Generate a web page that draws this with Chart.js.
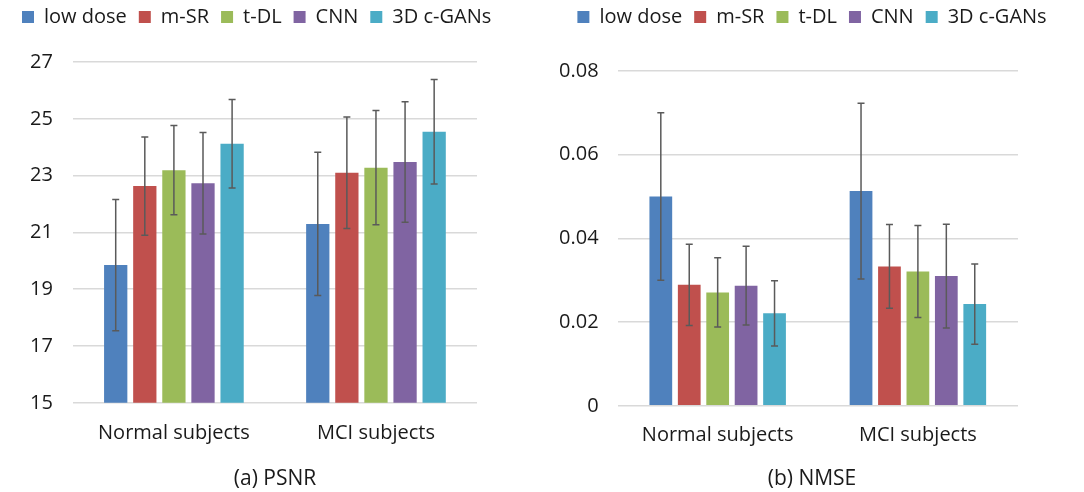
<!DOCTYPE html>
<html>
<head>
<meta charset="utf-8">
<script src="https://cdn.jsdelivr.net/npm/chart.js@4/dist/chart.umd.min.js"></script>
<style>
  body { margin: 0; background: #fff; }
  .wrap { position: absolute; top: 0; height: 492px; }
</style>
</head>
<body>
<div class="wrap" style="left:0;width:540px"><canvas id="psnrChart"></canvas></div>
<div class="wrap" style="left:540px;width:544px"><canvas id="nmseChart"></canvas></div>
<script>
// data
const categories = ['Normal subjects', 'MCI subjects'];
const methods = ['low dose', 'm-SR', 't-DL', 'CNN', '3D c-GANs'];
const colors = ['#4f81bd', '#c0504d', '#9bbb59', '#8064a2', '#4bacc6'];

// one row per method: [normal, MCI]
const psnrMean = [[19.85, 21.30], [22.63, 23.10], [23.19, 23.28], [22.73, 23.48], [24.12, 24.54]];
const psnrErr = [[2.31, 2.52], [1.73, 1.96], [1.57, 2.01], [1.79, 2.12], [1.56, 1.84]];
const psnrTicks = [15, 17, 19, 21, 23, 25, 27];

const nmseMean = [[0.0500, 0.0513], [0.0289, 0.0333], [0.0271, 0.0321], [0.0287, 0.0310], [0.0221, 0.0243]];
const nmseErr = [[0.0200, 0.0210], [0.0097, 0.0100], [0.0083, 0.0110], [0.0094, 0.0124], [0.0078, 0.0096]];
const nmseTicks = [0, 0.02, 0.04, 0.06, 0.08];

const fontFam = '"Open Sans", sans-serif';
const textCol = '#1a1a1a';

// draws the +/- error bars using the bar elements and y scale
const errorBars = {
    id: 'errorBars',
    afterDatasetsDraw(chart) {
        const ctx = chart.ctx;
        const yScale = chart.scales.y;
        ctx.save();
        ctx.strokeStyle = '#5a5a5a';
        ctx.lineWidth = 1.5;
        chart.data.datasets.forEach((ds, di) => {
            const meta = chart.getDatasetMeta(di);
            meta.data.forEach((bar, i) => {
                const v = ds.data[i];
                const e = ds.errors[i];
                const yTop = yScale.getPixelForValue(v + e);
                const yBot = yScale.getPixelForValue(v - e);
                ctx.beginPath();
                ctx.moveTo(bar.x, yTop);
                ctx.lineTo(bar.x, yBot);
                ctx.moveTo(bar.x - 3.5, yTop);
                ctx.lineTo(bar.x + 3.5, yTop);
                ctx.moveTo(bar.x - 3.5, yBot);
                ctx.lineTo(bar.x + 3.5, yBot);
                ctx.stroke();
            });
        });
        ctx.restore();
    }
};

function makeChart(id, means, errs, ticks, min, max, title, cfg) {
    const datasets = methods.map((m, k) => ({
        label: m,
        data: means[k],
        errors: errs[k],
        backgroundColor: colors[k],
        categoryPercentage: cfg.catPct,
        barPercentage: 0.8
    }));
    return new Chart(document.getElementById(id), {
        type: 'bar',
        data: { labels: categories, datasets: datasets },
        options: {
            responsive: true,
            maintainAspectRatio: false,
            animation: false,
            layout: { padding: cfg.pad },
            plugins: {
                legend: {
                    position: 'top',
                    align: cfg.legendAlign,
                    labels: {
                        font: { family: fontFam, size: 20 },
                        color: textCol,
                        boxWidth: 12,
                        boxHeight: 12,
                        padding: 12
                    }
                },
                title: {
                    display: true,
                    position: 'bottom',
                    text: title,
                    font: { family: fontFam, size: 21, weight: 'normal' },
                    color: textCol,
                    padding: { top: cfg.titleGap, bottom: 0 }
                },
                tooltip: { enabled: false }
            },
            scales: {
                x: {
                    grid: { display: false, drawTicks: false },
                    border: { display: false },
                    ticks: { font: { family: fontFam, size: 20 }, color: textCol, padding: cfg.xPad }
                },
                y: {
                    min: min,
                    max: max,
                    afterBuildTicks: (axis) => { axis.ticks = ticks.map(t => ({ value: t })); },
                    grid: { color: '#d9d9d9', lineWidth: 1.5, drawTicks: false },
                    border: { display: false },
                    ticks: { font: { family: fontFam, size: 20 }, color: textCol, padding: cfg.yPad }
                },
                // empty axes only used as margins round the plot
                topGap: {
                    axis: 'x', type: 'category', position: 'top',
                    grid: { display: false, drawTicks: false }, border: { display: false },
                    ticks: { display: false },
                    afterFit: (s) => { s.height = cfg.topGap; }
                },
                rightGap: {
                    axis: 'y', type: 'linear', position: 'right',
                    grid: { display: false, drawTicks: false }, border: { display: false },
                    ticks: { display: false },
                    afterFit: (s) => { s.width = cfg.rightGap; }
                }
            }
        },
        plugins: [errorBars]
    });
}

makeChart('psnrChart', psnrMean, psnrErr, psnrTicks, 15, 27, '(a) PSNR', {
    pad: { left: 10, right: 0, top: -5, bottom: 0 },
    legendAlign: 'start', catPct: 0.72, xPad: 18, yPad: 20, titleGap: 4, topGap: 25, rightGap: 63
});
makeChart('nmseChart', nmseMean, nmseErr, nmseTicks, 0, 0.08, '(b) NMSE', {
    pad: { left: 0, right: 0, top: -5, bottom: 0 },
    legendAlign: 'center', catPct: 0.71, xPad: 17, yPad: 19, titleGap: 3, topGap: 34, rightGap: 66
});
</script>
</body>
</html>
